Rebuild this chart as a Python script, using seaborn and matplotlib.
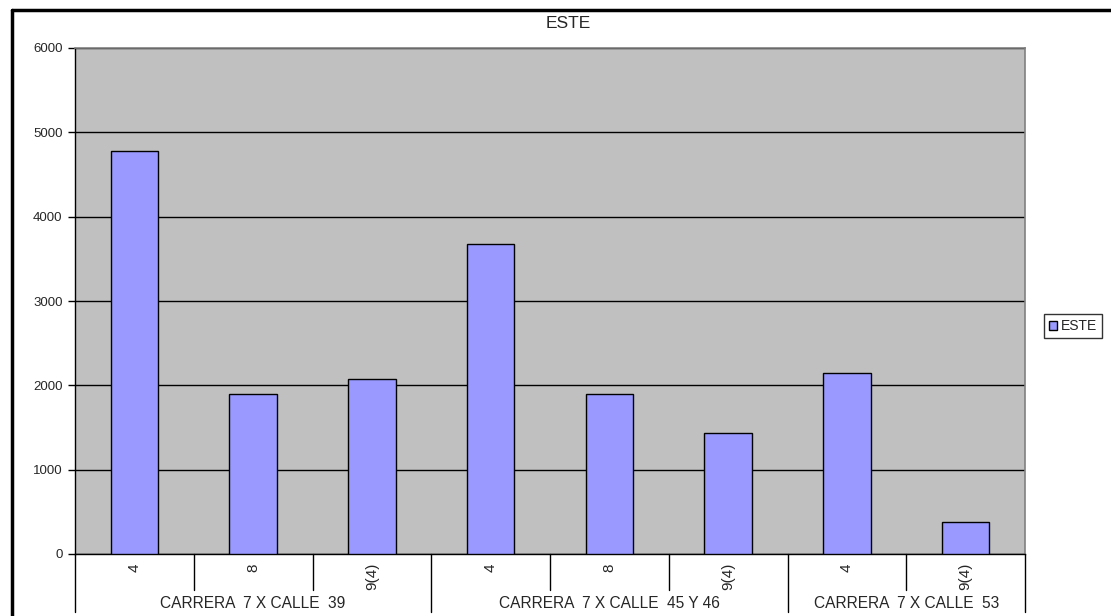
import matplotlib
matplotlib.use("Agg")
import matplotlib.pyplot as plt
import matplotlib.transforms as mtransforms
from matplotlib.lines import Line2D
import seaborn as sns
import pandas as pd

# Counts per approach at each intersection
groups = ["CARRERA  7 X CALLE  39", "CARRERA  7 X CALLE  45 Y 46", "CARRERA  7 X CALLE  53"]
approaches = ["4", "8", "9(4)", "4", "8", "9(4)", "4", "9(4)"]
group_of_bar = [0, 0, 0, 1, 1, 1, 2, 2]
este = [4780, 1900, 2070, 3680, 1900, 1430, 2150, 380]
y_ticks = [0, 1000, 2000, 3000, 4000, 5000, 6000]

sns.set_theme(style="white")
plt.rcParams["font.family"] = ["Liberation Sans", "DejaVu Sans"]

df = pd.DataFrame({
    "pos": [str(i) for i in range(len(este))],
    "value": este,
    "serie": "ESTE",
})

W, H = 1111, 616
fig = plt.figure(figsize=(W / 100, H / 100), dpi=100)
fig.patch.set_facecolor("white")
ax = fig.add_axes([75 / W, (H - 554) / H, 950 / W, 506 / H])
ax.set_facecolor("#C0C0C0")

sns.barplot(data=df, x="pos", y="value", hue="serie", palette=["#9999FF"],
            saturation=1, width=0.4, edgecolor="black", linewidth=1.0, ax=ax,
            zorder=3, legend=True)

ax.set_ylim(0, 6000)
ax.set_xlim(-0.5, len(este) - 0.5)
ax.set_yticks(y_ticks)
ax.set_yticklabels([str(v) for v in y_ticks], fontsize=9.5)
ax.yaxis.grid(True, color="black", linewidth=1.0, zorder=1)
ax.set_axisbelow(True)
ax.tick_params(axis="y", left=True, length=5, width=1, color="black", pad=4)
ax.tick_params(axis="x", bottom=False, labelbottom=False)
ax.set_xlabel("")
ax.set_ylabel("")

for side in ["top", "right"]:
    ax.spines[side].set_color("#808080")
    ax.spines[side].set_linewidth(1.2)
ax.spines["left"].set_color("black")
ax.spines["bottom"].set_color("black")
ax.spines["left"].set_linewidth(1.0)
ax.spines["bottom"].set_linewidth(1.0)

fig.text(568 / W, 1 - 24 / H, "ESTE", ha="center", va="center", fontsize=12.5)

# Multi-level category axis below the plot
trans = mtransforms.blended_transform_factory(ax.transData, ax.transAxes)
px = 1.0 / 506  # one pixel in axes-height units
for i, lab in enumerate(approaches):
    ax.text(i, -9 * px, lab, transform=trans, rotation=90, ha="center",
            va="top", fontsize=11)
group_edges = [-0.5]
for i in range(1, len(group_of_bar)):
    if group_of_bar[i] != group_of_bar[i - 1]:
        group_edges.append(i - 0.5)
group_edges.append(len(este) - 0.5)
for i in range(len(este) + 1):
    xe = i - 0.5
    long = any(abs(xe - g) < 1e-9 for g in group_edges)
    y_end = -58 * px if long else -36 * px
    ax.add_line(Line2D([xe, xe], [0, y_end], transform=trans, color="black",
                       linewidth=1.0, clip_on=False))
for gi, name in enumerate(groups):
    idx = [k for k, g in enumerate(group_of_bar) if g == gi]
    xc = (idx[0] + idx[-1]) / 2
    ax.text(xc, -50 * px, name, transform=trans, ha="center", va="center",
            fontsize=11.2)

leg = ax.legend(loc="center left", bbox_to_anchor=(1.013, 0.45), frameon=True,
                fontsize=10, handlelength=0.6, handleheight=0.6,
                handletextpad=0.25, borderpad=0.35, fancybox=False)
leg.get_frame().set_edgecolor("black")
leg.get_frame().set_linewidth(1.0)
for h in leg.legend_handles:
    h.set_edgecolor("black")

# Outer frame of the chart area
fig.add_artist(Line2D([12 / W, 12 / W], [0, 1 - 10 / H], transform=fig.transFigure,
                      color="black", linewidth=2.5))
fig.add_artist(Line2D([12 / W, 1], [1 - 10 / H, 1 - 10 / H], transform=fig.transFigure,
                      color="black", linewidth=2.5))

fig.savefig("out.png", dpi=100)
